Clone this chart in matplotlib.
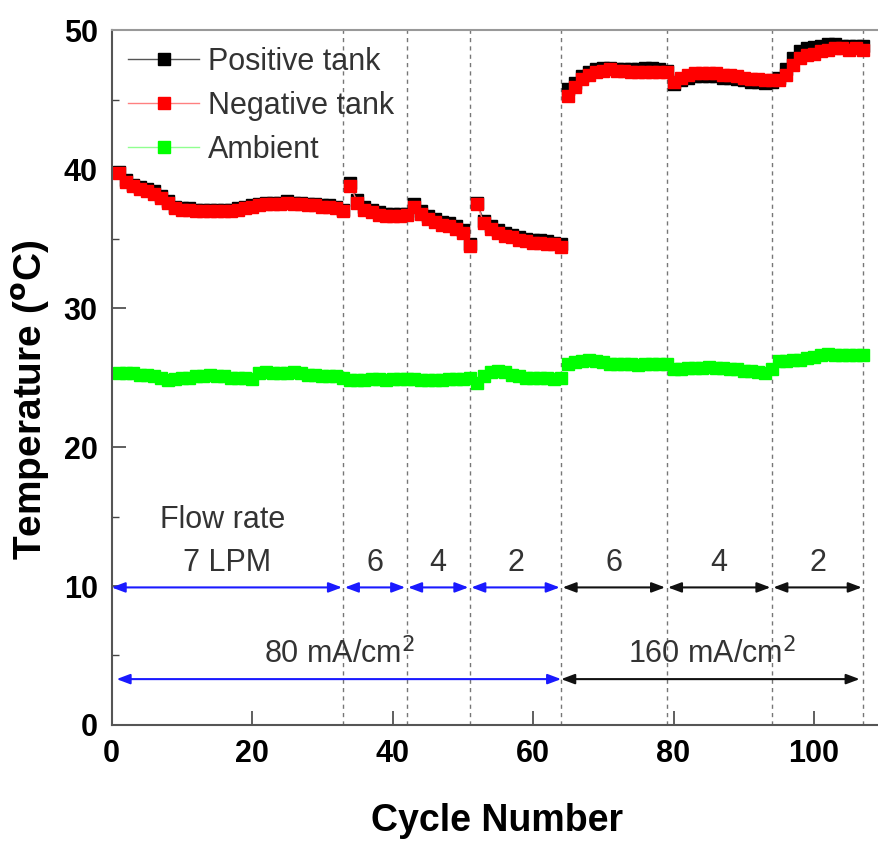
import numpy as np
import matplotlib
matplotlib.use("Agg")
import matplotlib.pyplot as plt
from matplotlib.ticker import MultipleLocator

# cycle-by-cycle tank and ambient temperatures (degC)
neg_tank = [
    # 80 mA/cm2, 7 LPM
    39.7, 39.1, 38.8, 38.6, 38.4, 38.2, 37.9, 37.6, 37.2, 37.1, 37.1, 37.0, 37.0, 37.0, 37.0, 37.0, 37.0,
    37.1, 37.2, 37.3, 37.4, 37.5, 37.5, 37.5, 37.6, 37.5, 37.5, 37.4, 37.4, 37.3, 37.3, 37.2, 37.0,
    # 6 LPM
    38.8, 37.6, 37.1, 36.9, 36.7, 36.6, 36.6, 36.6, 36.7,
    # 4 LPM
    37.3, 36.8, 36.4, 36.2, 36.0, 35.9, 35.7, 35.4, 34.5,
    # 2 LPM
    37.5, 36.1, 35.7, 35.4, 35.2, 35.1, 34.9, 34.8, 34.7, 34.7, 34.6, 34.6, 34.4,
    # 160 mA/cm2, 6 LPM
    45.3, 45.9, 46.5, 46.8, 47.0, 47.1, 47.2, 47.1, 47.1, 47.0, 47.0, 47.0, 47.0, 47.0, 47.0,
    # 4 LPM
    46.3, 46.6, 46.8, 46.9, 46.9, 46.9, 46.9, 46.8, 46.8, 46.7, 46.6, 46.5, 46.5, 46.4, 46.4,
    # 2 LPM
    46.4, 46.8, 47.5, 48.0, 48.2, 48.3, 48.5, 48.6, 48.7, 48.7, 48.6, 48.7, 48.6,
]
pos_tank = [
    39.8, 39.2, 38.9, 38.7, 38.6, 38.4, 38.1, 37.7, 37.3, 37.2, 37.2, 37.1, 37.1, 37.1, 37.1, 37.1, 37.1,
    37.2, 37.3, 37.4, 37.5, 37.6, 37.6, 37.6, 37.7, 37.6, 37.6, 37.5, 37.5, 37.4, 37.4, 37.3, 37.1,
    39.0, 37.8, 37.3, 37.1, 36.9, 36.8, 36.8, 36.8, 36.8,
    37.5, 37.0, 36.6, 36.4, 36.2, 36.1, 35.9, 35.6, 34.6,
    37.6, 36.3, 35.9, 35.6, 35.4, 35.3, 35.1, 35.0, 34.9, 34.9, 34.8, 34.7, 34.6,
    45.8, 46.2, 46.7, 47.0, 47.2, 47.3, 47.3, 47.2, 47.2, 47.2, 47.2, 47.3, 47.3, 47.2, 47.1,
    46.1, 46.4, 46.6, 46.7, 46.7, 46.7, 46.7, 46.6, 46.6, 46.5, 46.4, 46.3, 46.3, 46.2, 46.3,
    46.6, 47.2, 48.0, 48.5, 48.7, 48.8, 48.9, 49.0, 49.0, 48.9, 48.9, 48.9, 48.9,
]
ambient = [
    25.3, 25.3, 25.3, 25.2, 25.2, 25.1, 25.0, 24.8, 24.9, 25.0, 25.0, 25.1, 25.1, 25.2, 25.1, 25.1, 25.0,
    25.0, 25.0, 24.9, 25.3, 25.4, 25.3, 25.3, 25.3, 25.4, 25.3, 25.2, 25.2, 25.1, 25.1, 25.1, 25.0,
    24.8, 24.8, 24.8, 24.9, 24.9, 24.8, 24.9, 24.9, 24.9,
    24.9, 24.8, 24.8, 24.8, 24.8, 24.9, 24.9, 24.9, 25.0,
    24.6, 25.1, 25.4, 25.5, 25.4, 25.2, 25.1, 25.0, 25.0, 25.0, 25.0, 24.9, 25.0,
    26.0, 26.1, 26.2, 26.3, 26.2, 26.1, 26.0, 26.0, 26.0, 26.0, 25.9, 26.0, 26.0, 26.0, 26.0,
    25.6, 25.6, 25.7, 25.7, 25.7, 25.8, 25.7, 25.7, 25.6, 25.6, 25.5, 25.5, 25.4, 25.3, 25.6,
    26.2, 26.2, 26.3, 26.3, 26.4, 26.5, 26.6, 26.7, 26.6, 26.6, 26.6, 26.6, 26.6,
]
cycles = np.arange(1, len(neg_tank) + 1)

# condition boundaries (cycle number) and flow rate labels
bounds = [0, 33, 42, 51, 64, 79, 94, 107]
flow_labels = ["7 LPM", "6", "4", "2", "6", "4", "2"]
current_labels = ["80 mA/cm$^2$", "160 mA/cm$^2$"]

bold = ["Liberation Sans", "DejaVu Sans"]
sans = ["Liberation Sans", "DejaVu Sans"]
txt = "#333333"

fig = plt.figure(figsize=(8.79, 8.42), dpi=100)
ax = fig.add_axes([0.127, 0.139, 0.871, 0.825])

series = [
    (pos_tank, "black", "#555555", "Positive tank"),
    (neg_tank, "#ff0000", "#ff8080", "Negative tank"),
    (ambient, "#00ff00", "#90ff90", "Ambient"),
]
# each test condition is drawn as its own run so segments are not joined
for vals, mc, lc, name in series:
    vals = np.asarray(vals)
    for i in range(len(bounds) - 1):
        sel = (cycles > bounds[i]) & (cycles <= bounds[i + 1])
        ax.plot(cycles[sel], vals[sel], "-s", color=lc, mfc=mc, mec=mc, lw=1, ms=8.5,
                label=name if i == 0 else None)

for b in bounds[1:]:
    ax.axvline(b, color="#777777", lw=1, ls=(0, (3, 3)), zorder=0)

arrow = "<|-|>,head_length=0.8,head_width=0.3"

# flow-rate arrows
for i in range(len(bounds) - 1):
    c = "#1a1aff" if i < 4 else "#111111"
    x0 = bounds[i] + (0.2 if i else 0.0)
    x1 = bounds[i + 1] - 0.2
    ax.annotate("", xy=(x1, 9.9), xytext=(x0, 9.9),
                arrowprops=dict(arrowstyle=arrow, color=c, lw=1.5, shrinkA=0, shrinkB=0))
    ax.text((bounds[i] + bounds[i + 1]) / 2, 10.6, flow_labels[i], ha="center", va="bottom",
            fontsize=22, color=txt, family=sans)

ax.text(15.8, 13.7, "Flow rate", ha="center", va="bottom", fontsize=22, color=txt, family=sans)

# current density arrows
ax.annotate("", xy=(64.0, 3.3), xytext=(0.7, 3.3),
            arrowprops=dict(arrowstyle=arrow, color="#1a1aff", lw=1.5, shrinkA=0, shrinkB=0))
ax.annotate("", xy=(106.5, 3.3), xytext=(64.0, 3.3),
            arrowprops=dict(arrowstyle=arrow, color="#111111", lw=1.5, shrinkA=0, shrinkB=0))
ax.text(32.5, 3.9, current_labels[0], ha="center", va="bottom", fontsize=22, color=txt, family=sans)
ax.text(85.5, 3.9, current_labels[1], ha="center", va="bottom", fontsize=22, color=txt, family=sans)

ax.set_xlim(0, 109)
ax.set_ylim(0, 50)
ax.xaxis.set_major_locator(MultipleLocator(20))
ax.yaxis.set_major_locator(MultipleLocator(10))
ax.yaxis.set_minor_locator(MultipleLocator(5))
ax.tick_params(which="both", direction="in", color="#444444")
ax.tick_params(which="major", length=10, width=1.2)
ax.tick_params(which="minor", length=5, width=1)
ax.tick_params(axis="x", which="minor", length=0)
for lab in ax.get_xticklabels() + ax.get_yticklabels():
    lab.set_family(bold)
    lab.set_fontweight("bold")
    lab.set_fontsize(22)
ax.tick_params(axis="x", pad=10)
ax.tick_params(axis="y", pad=10)

ax.spines["right"].set_visible(False)
ax.spines["top"].set_color("#999999")
ax.spines["left"].set_color("#555555")
ax.spines["bottom"].set_color("#555555")
for s in ("left", "bottom", "top"):
    ax.spines[s].set_linewidth(1.5)

ax.set_xlabel("Cycle Number", fontsize=27, fontweight="bold", family=bold)
ax.set_ylabel("Temperature ($^{\\mathbf{o}}$C)", fontsize=28, fontweight="bold", family=bold)
ax.xaxis.set_label_coords(0.503, -0.112)
ax.yaxis.set_label_coords(-0.078, 0.468)

leg = ax.legend(loc="upper left", frameon=False, handlelength=2.3,
                handletextpad=0.3, labelspacing=0.45, borderaxespad=0.15,
                prop={"family": sans, "size": 22})
for t in leg.get_texts():
    t.set_color(txt)

fig.savefig("out.png", dpi=100)
